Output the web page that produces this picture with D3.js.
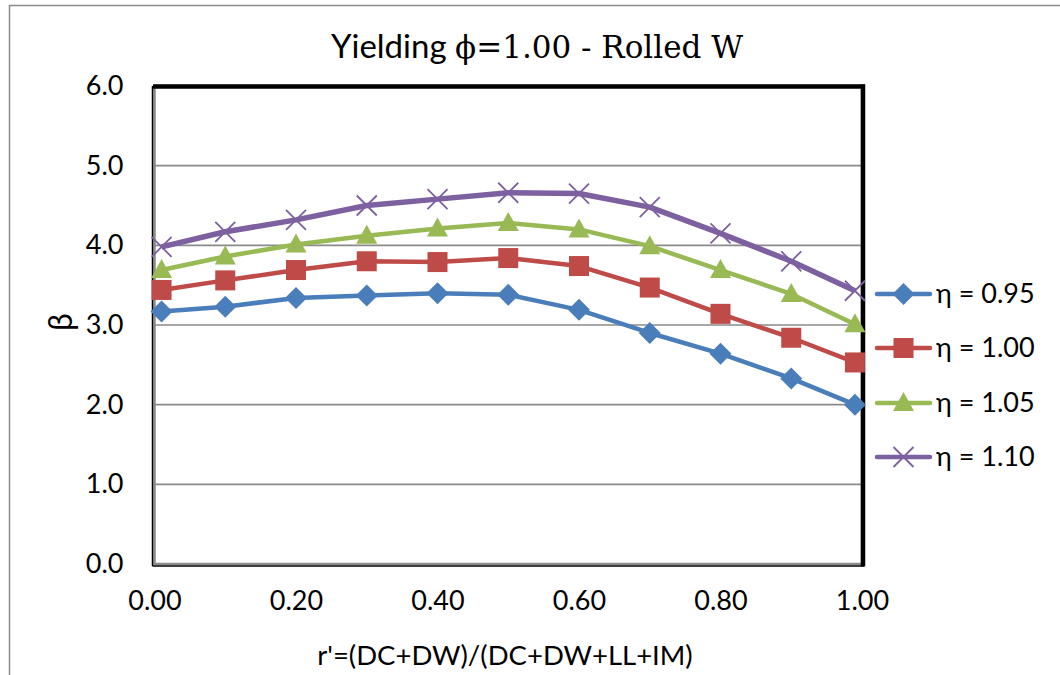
<!DOCTYPE html>
<html><head><meta charset="utf-8">
<script src="https://cdn.jsdelivr.net/npm/d3@7"></script>
<style>body{margin:0;background:#fff}svg{display:block}</style>
</head><body>
<svg id="c" width="1060" height="675"></svg>
<script>
const xValues = [0.01, 0.1, 0.2, 0.3, 0.4, 0.5, 0.6, 0.7, 0.8, 0.9, 0.99];
const seriesNames = ["η = 0.95", "η = 1.00", "η = 1.05", "η = 1.10"];
const eta095 = [3.17, 3.23, 3.34, 3.37, 3.40, 3.38, 3.19, 2.90, 2.64, 2.33, 2.00];
const eta100 = [3.44, 3.56, 3.69, 3.80, 3.79, 3.84, 3.74, 3.47, 3.14, 2.84, 2.53];
const eta105 = [3.69, 3.86, 4.01, 4.12, 4.21, 4.28, 4.20, 3.99, 3.69, 3.39, 3.01];
const eta110 = [3.98, 4.17, 4.32, 4.50, 4.58, 4.66, 4.65, 4.48, 4.15, 3.80, 3.43];
const xTicks = [0, 0.2, 0.4, 0.6, 0.8, 1.0];
const yTicks = [0, 1, 2, 3, 4, 5, 6];
const colors = ["#4A7EBB", "#BE4B48", "#98B954", "#7D60A0"];
const markers = ["diamond", "square", "triangle", "x"];
const allSeries = [eta095, eta100, eta105, eta110];

const svg = d3.select("#c");
const x = d3.scaleLinear().domain([0, 1]).range([154.5, 862]);
const y = d3.scaleLinear().domain([0, 6]).range([564, 86]);

// outer chart border
svg.append("rect").attr("x", 9.5).attr("y", 5.5).attr("width", 1100).attr("height", 700)
  .attr("fill", "#fff").attr("stroke", "#8c8c8c").attr("stroke-width", 1.5);

// gridlines
svg.append("g").selectAll("line").data(yTicks.filter(d => d > 0 && d < 6)).join("line")
  .attr("x1", x(0)).attr("x2", x(1)).attr("y1", d => y(d)).attr("y2", d => y(d))
  .attr("stroke", "#8a8a8a").attr("stroke-width", 1.6);

// plot frame
const fx0 = x(0), fx1 = x(1), fy0 = y(6), fy1 = y(0);
svg.append("rect").attr("x", fx0).attr("y", fy0).attr("width", fx1 - fx0).attr("height", fy1 - fy0)
  .attr("fill", "none").attr("stroke", "#8a8a8a").attr("stroke-width", 2.5);
svg.append("line").attr("x1", fx0 - 1.5).attr("x2", fx1 + 3).attr("y1", fy0 + 0.5).attr("y2", fy0 + 0.5)
  .attr("stroke", "#000").attr("stroke-width", 4.5);
svg.append("line").attr("x1", fx1 + 1).attr("x2", fx1 + 1).attr("y1", fy0 - 1.5).attr("y2", fy1 + 2.5)
  .attr("stroke", "#000").attr("stroke-width", 4.5);
svg.append("line").attr("x1", fx0 - 2).attr("x2", fx0 - 2).attr("y1", fy0).attr("y2", fy1 + 2)
  .attr("stroke", "#000").attr("stroke-width", 1.5);
svg.append("line").attr("x1", fx0 - 2).attr("x2", fx1 + 2).attr("y1", fy1 + 2).attr("y2", fy1 + 2)
  .attr("stroke", "#000").attr("stroke-width", 1.5);

// axes (labels only)
const font = "Lato, 'Open Sans', sans-serif";
const yAxis = svg.append("g").attr("transform", `translate(${fx0},0)`)
  .call(d3.axisLeft(y).tickValues(yTicks).tickFormat(d3.format(".1f")).tickSize(0).tickPadding(31));
yAxis.select(".domain").remove();
yAxis.selectAll("text").attr("font-family", font).attr("font-size", 27).attr("fill", "#000");
const xAxis = svg.append("g").attr("transform", `translate(0,${fy1})`)
  .call(d3.axisBottom(x).tickValues(xTicks).tickFormat(d3.format(".2f")).tickSize(0).tickPadding(27));
xAxis.select(".domain").remove();
xAxis.selectAll("text").attr("font-family", font).attr("font-size", 27).attr("fill", "#000");

// title
const title = svg.append("text").attr("x", 537).attr("y", 58).attr("text-anchor", "middle")
  .attr("font-size", 33).attr("fill", "#000");
title.append("tspan").attr("font-family", font).text("Yielding ");
title.append("tspan").attr("font-family", "'DejaVu Serif', serif").attr("font-size", 31).text("ϕ=1.00 - Rolled W");

// axis labels
svg.append("text").attr("x", 505).attr("y", 665).attr("text-anchor", "middle")
  .attr("font-family", font).attr("font-size", 27.5).attr("fill", "#000")
  .text("r'=(DC+DW)/(DC+DW+LL+IM)");
svg.append("text").attr("transform", "translate(72,322) rotate(-90)").attr("text-anchor", "middle")
  .attr("font-family", font).attr("font-size", 32).attr("fill", "#000").text("β");

// marker drawing
function drawMarker(g, type, color) {
  if (type === "diamond") {
    g.append("path").attr("d", "M0,-11L11,0L0,11L-11,0Z").attr("fill", color);
  } else if (type === "square") {
    g.append("rect").attr("x", -10).attr("y", -10).attr("width", 20).attr("height", 20).attr("fill", color);
  } else if (type === "triangle") {
    g.append("path").attr("d", "M0,-11L10.5,8L-10.5,8Z").attr("fill", color);
  } else {
    g.append("path").attr("d", "M-10,-10L10,10M-10,10L10,-10").attr("stroke", color).attr("stroke-width", 1.8).attr("fill", "none");
  }
}

const line = d3.line().x(d => x(d[0])).y(d => y(d[1]));
allSeries.forEach((vals, i) => {
  const pts = xValues.map((xv, j) => [xv, vals[j]]);
  svg.append("path").datum(pts).attr("d", line).attr("fill", "none")
    .attr("stroke", colors[i]).attr("stroke-width", i === 3 ? 5.5 : 4.5).attr("stroke-linejoin", "round");
  svg.append("g").selectAll("g").data(pts).join("g")
    .attr("transform", d => `translate(${x(d[0])},${y(d[1])})`)
    .each(function () { drawMarker(d3.select(this), markers[i], colors[i]); });
});

// legend
const legY = [294, 348, 403, 457];
seriesNames.forEach((name, i) => {
  const g = svg.append("g").attr("transform", `translate(0,${legY[i]})`);
  g.append("line").attr("x1", 877).attr("x2", 930).attr("y1", 0).attr("y2", 0)
    .attr("stroke", colors[i]).attr("stroke-width", 4.5).attr("stroke-linecap", "round");
  const mg = g.append("g").attr("transform", "translate(903.5,0)");
  drawMarker(mg, markers[i], colors[i]);
  g.append("text").attr("x", 936).attr("y", 9).attr("font-family", font).attr("font-size", 27)
    .attr("fill", "#000").text(name);
});
</script>
</body></html>
